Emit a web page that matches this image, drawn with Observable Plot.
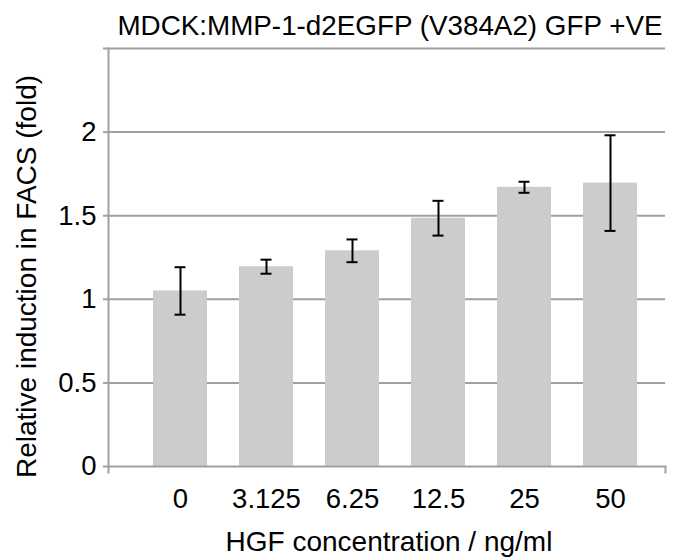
<!DOCTYPE html>
<html>
<head>
<meta charset="utf-8">
<script src="https://cdn.jsdelivr.net/npm/d3@7"></script>
<script src="https://cdn.jsdelivr.net/npm/@observablehq/plot@0.6"></script>
<style>
  html, body { margin: 0; padding: 0; background: #ffffff; }
  #chart svg { display: block; }
</style>
</head>
<body>
<div id="chart"></div>
<script>
// ---- data ----
const concentrations = ["0", "3.125", "6.25", "12.5", "25", "50"];
const meanFold = [1.05, 1.195, 1.29, 1.485, 1.67, 1.695];
const errFold = [0.142, 0.042, 0.068, 0.104, 0.033, 0.286];
const yTicks = [0, 0.5, 1, 1.5, 2, 2.5];
const gridValues = [0.5, 1, 1.5, 2, 2.5];
const titleText = "MDCK:MMP-1-d2EGFP (V384A2) GFP +VE";
const xLabel = "HGF concentration / ng/ml";
const yLabel = "Relative induction in FACS (fold)";

const data = concentrations.map((c, i) => ({conc: c, mean: meanFold[i], err: errFold[i]}));

// ---- layout ----
const W = 674, H = 559;
const mL = 108, mR = 9, mT = 48, mB = 93;
const frameH = H - mT - mB;
const gray = "#a0a0a0";
const font = "'Liberation Sans', Arial, Helvetica, sans-serif";
const fs = 27.5;

const chart = Plot.plot({
  width: W,
  height: H,
  marginLeft: mL,
  marginRight: mR,
  marginTop: mT,
  marginBottom: mB,
  style: {fontFamily: font, background: "#ffffff", color: "#000000", overflow: "visible"},
  x: {type: "band", domain: concentrations, range: [137, 653], paddingInner: 0.372, paddingOuter: 0.186},
  y: {domain: [0, 2.5]},
  marks: [
    Plot.ruleY(gridValues, {stroke: gray, strokeWidth: 2}),
    Plot.barY(data, {x: "conc", y: "mean", fill: "#cccccc"}),
    Plot.ruleY([0], {stroke: gray, strokeWidth: 2}),
    Plot.frame({anchor: "left", stroke: gray, strokeWidth: 2, insetBottom: -6}),
    Plot.frame({anchor: "right", stroke: gray, strokeWidth: 2, insetTop: frameH, insetBottom: -6}),
    Plot.ruleX(data, {x: "conc", y1: d => d.mean - d.err, y2: d => d.mean + d.err, stroke: "#000000", strokeWidth: 2}),
    Plot.tickY(data, {x: "conc", y: d => d.mean - d.err, stroke: "#000000", strokeWidth: 2, insetLeft: 21.5, insetRight: 21.5}),
    Plot.tickY(data, {x: "conc", y: d => d.mean + d.err, stroke: "#000000", strokeWidth: 2, insetLeft: 21.5, insetRight: 21.5}),
    Plot.axisY({ticks: yTicks, tickSize: 5, tickPadding: 7, tickFormat: d => d === 2.5 ? "" : String(d),
      stroke: gray, strokeWidth: 2, fill: "#000000", fontSize: fs, label: null}),
    Plot.axisX({tickSize: 0, tickPadding: 22, fontSize: fs, fill: "#000000", label: null}),
    Plot.text([xLabel], {frameAnchor: "bottom", lineAnchor: "top", dx: 2, dy: 65, fontSize: 28, fill: "#000000"}),
    Plot.text([yLabel], {frameAnchor: "left", textAnchor: "middle", rotate: -90, lineAnchor: "top", dx: -92, dy: 19, fontSize: 28, fill: "#000000"}),
    Plot.text([titleText], {frameAnchor: "top-right", textAnchor: "end", lineAnchor: "top", dx: -3, dy: -33, fontSize: 27.8, fill: "#000000"})
  ]
});
document.getElementById("chart").appendChild(chart);
</script>
</body>
</html>
